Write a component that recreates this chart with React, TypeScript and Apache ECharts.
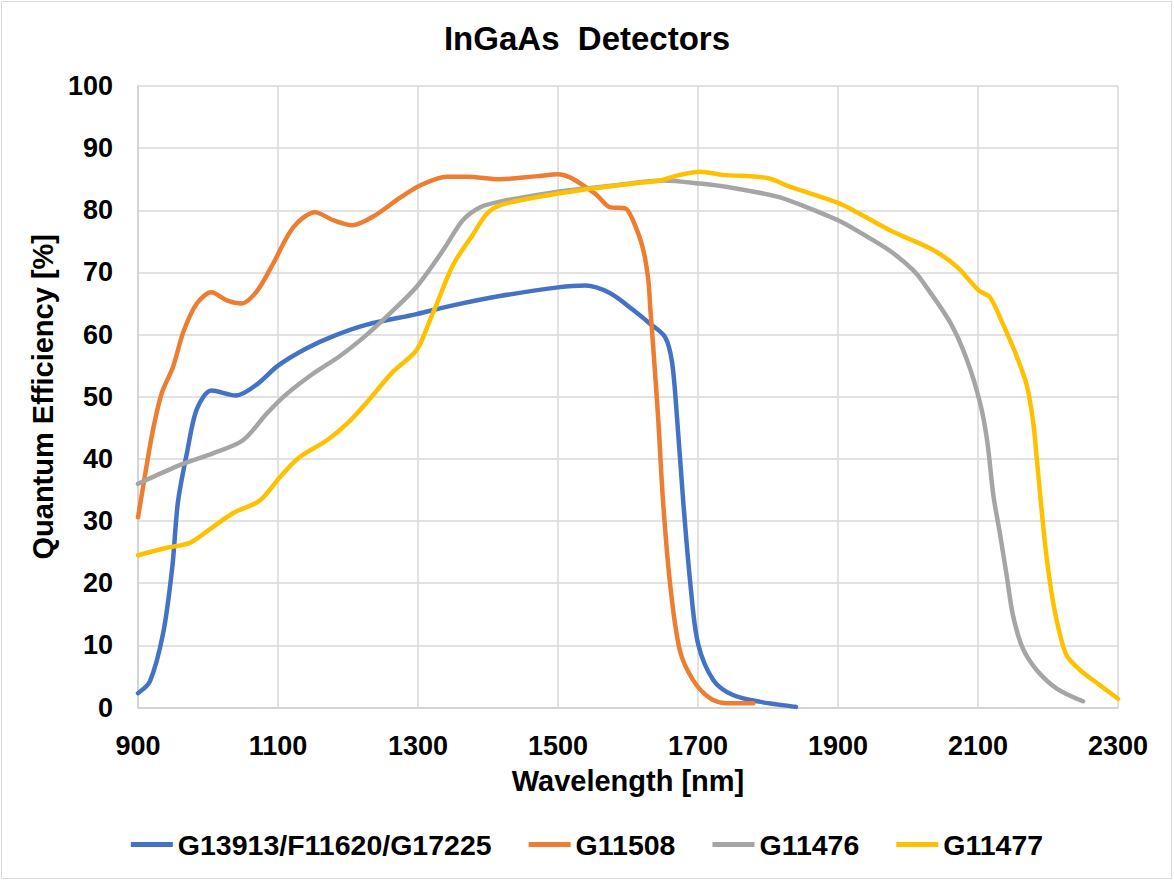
import React, { useEffect, useRef } from "react";
import * as echarts from "echarts";

// Quantum efficiency curves of InGaAs detector families, [wavelength nm, QE %]
const g13913: [number, number][] = [
  [900, 2.3], [917, 4.2], [936, 12], [949, 22.6], [957, 33], [970, 41], [984, 48],
  [1005, 51], [1040, 50.2], [1070, 52], [1100, 55], [1141, 57.8], [1180, 59.8],
  [1227, 61.6], [1298, 63.3], [1350, 64.7], [1417, 66.2], [1500, 67.6], [1539, 67.9],
  [1574, 66.7], [1607, 64], [1631, 61.8], [1653, 59.6], [1663, 55.5], [1670, 46.7],
  [1679, 33], [1689, 20], [1700, 10.3], [1722, 4.4], [1750, 2], [1789, 0.9], [1840, 0.1],
];

const g11508: [number, number][] = [
  [900, 30.6], [912, 38.7], [922, 45], [934, 50.6], [950, 54.8], [965, 60.5], [984, 65],
  [1005, 66.8], [1027, 65.5], [1048, 65], [1070, 67], [1093, 71.4], [1122, 77.3],
  [1153, 79.7], [1179, 78.4], [1206, 77.6], [1236, 79], [1274, 82], [1303, 84],
  [1341, 85.4], [1370, 85.4], [1417, 85], [1470, 85.5], [1500, 85.8], [1517, 85.3],
  [1536, 84], [1556, 82.4], [1574, 80.5], [1596, 80.3], [1607, 78.4], [1621, 74],
  [1629, 68.8], [1632, 64], [1636, 58], [1643, 46.7], [1650, 33.3], [1660, 20],
  [1674, 9.2], [1693, 4.4], [1717, 1.5], [1741, 0.7], [1779, 0.7],
];

const g11476: [number, number][] = [
  [900, 36], [964, 39.2], [1007, 40.9], [1050, 43], [1084, 47.3], [1113, 50.5],
  [1150, 53.7], [1189, 56.6], [1227, 60], [1260, 63.4], [1298, 67.7], [1336, 73.6],
  [1364, 78.4], [1389, 80.5], [1417, 81.4], [1500, 83], [1580, 84], [1650, 84.8],
  [1703, 84.3], [1750, 83.6], [1813, 82.2], [1846, 80.9], [1900, 78.4], [1950, 75.2],
  [1979, 73.1], [2007, 70.4], [2021, 68.5], [2060, 62], [2084, 56], [2103, 49],
  [2113, 43], [2122, 34.1], [2131, 28.2], [2141, 21.2], [2150, 14.8], [2164, 9.5],
  [2184, 6], [2213, 3], [2250, 1],
];

const g11477: [number, number][] = [
  [900, 24.5], [941, 25.7], [974, 26.5], [998, 28.3], [1036, 31.3], [1074, 33.3],
  [1103, 37.1], [1131, 40.3], [1170, 43], [1199, 45.7], [1230, 49.5], [1264, 54],
  [1298, 57.5], [1317, 62.3], [1327, 65], [1350, 71.2], [1379, 76.2], [1398, 79.4],
  [1417, 80.8], [1464, 82], [1536, 83.3], [1607, 84.3], [1646, 84.8], [1674, 85.7],
  [1703, 86.2], [1736, 85.7], [1799, 85.2], [1831, 83.8], [1900, 81.2], [1927, 79.7],
  [1974, 76.8], [2036, 73.6], [2070, 70.9], [2101, 67.1], [2117, 66], [2136, 61.6],
  [2156, 56.3], [2170, 51.7], [2179, 45.8], [2184, 40], [2189, 34], [2194, 28.2],
  [2200, 22.4], [2208, 16.5], [2217, 11.8], [2227, 8.3], [2246, 6], [2274, 3.6],
  [2300, 1.4],
];

const seriesNames = ["G13913/F11620/G17225", "G11508", "G11476", "G11477"];
const seriesColors = ["#4472C4", "#ED7D31", "#A5A5A5", "#FFC000"];
const seriesData = [g13913, g11508, g11476, g11477];

const font = "'Liberation Sans', Arial, Helvetica, sans-serif";

export default function App() {
  const ref = useRef<HTMLDivElement>(null);

  useEffect(() => {
    if (!ref.current) return;
    const chart = echarts.init(ref.current, undefined, { renderer: "svg" });
    chart.setOption({
      animation: false,
      backgroundColor: "#ffffff",
      title: {
        text: "InGaAs  Detectors",
        left: "center",
        top: 17,
        textStyle: { fontFamily: font, fontSize: 33, fontWeight: "bold", color: "#000" },
      },
      graphic: [
        {
          type: "rect",
          shape: { x: 1.5, y: 1.5, width: 1170, height: 877 },
          style: { fill: "none", stroke: "#d9d9d9", lineWidth: 1 },
          silent: true,
        },
      ],
      grid: { left: 138, right: 56, top: 86, bottom: 173.5, containLabel: false },
      legend: {
        bottom: 17,
        left: "center",
        icon: "rect",
        itemWidth: 42,
        itemHeight: 5,
        itemGap: 37,
        textStyle: { fontFamily: font, fontSize: 28.5, fontWeight: "bold", color: "#000" },
        data: seriesNames,
      },
      xAxis: {
        type: "value",
        min: 900,
        max: 2300,
        interval: 200,
        name: "Wavelength [nm]",
        nameLocation: "middle",
        nameGap: 59,
        nameTextStyle: { fontFamily: font, fontSize: 29, fontWeight: "bold", color: "#000" },
        axisLine: { show: true, lineStyle: { color: "#d0d0d0", width: 1.5 } },
        axisTick: { show: false },
        splitLine: { show: true, lineStyle: { color: "#d9d9d9", width: 1.5 } },
        axisLabel: {
          margin: 25,
          fontFamily: font,
          fontSize: 27,
          fontWeight: "bold",
          color: "#000",
          formatter: (v: number) => String(v),
        },
      },
      yAxis: {
        type: "value",
        min: 0,
        max: 100,
        interval: 10,
        name: "Quantum Efficiency [%]",
        nameLocation: "middle",
        nameGap: 69,
        nameTextStyle: { fontFamily: font, fontSize: 29, fontWeight: "bold", color: "#000" },
        axisLine: { show: true, lineStyle: { color: "#d0d0d0", width: 1.5 } },
        axisTick: { show: false },
        splitLine: { show: true, lineStyle: { color: "#d9d9d9", width: 1.5 } },
        axisLabel: {
          margin: 25,
          fontFamily: font,
          fontSize: 27,
          fontWeight: "bold",
          color: "#000",
        },
      },
      series: seriesNames.map((name, i) => ({
        name,
        type: "line",
        data: seriesData[i],
        smooth: 0.3,
        showSymbol: false,
        symbol: "none",
        color: seriesColors[i],
        lineStyle: { color: seriesColors[i], width: 4.5, cap: "round", join: "round" },
        z: 2 + i,
      })),
    });
    return () => chart.dispose();
  }, []);

  return (
    <div
      ref={ref}
      style={{ position: "fixed", left: 0, top: 0, width: 1174, height: 881, background: "#fff" }}
    />
  );
}
